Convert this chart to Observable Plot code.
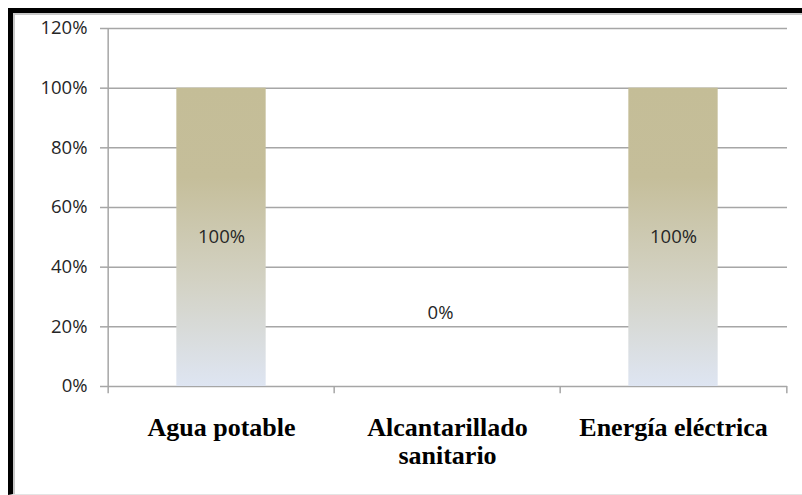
<!DOCTYPE html>
<html>
<head>
<meta charset="utf-8">
<script src="https://cdn.jsdelivr.net/npm/d3@7"></script>
<script src="https://cdn.jsdelivr.net/npm/@observablehq/plot@0.6"></script>
<style>
  html, body { margin: 0; padding: 0; background: #fff; }
  #wrap { position: relative; width: 802px; height: 495px; overflow: hidden; background: #fff; }
  #edge {
    position: absolute; left: 8px; top: 8px; right: -10px; bottom: 0;
    border-left: 5px solid #000; border-top: 5px solid #000;
    box-shadow: inset 2px 2px 0 #c8c8c8;
    border-bottom: 1px solid #e4e4e4;
  }
  #chart { position: absolute; left: 0; top: 0; }
</style>
</head>
<body>
<div id="wrap"><div id="edge"></div><div id="chart"></div></div>
<script>
// Servicios básicos: porcentaje de cobertura
const categories = ["Agua potable", "Alcantarillado sanitario", "Energía eléctrica"];
const tickLabels = ["Agua potable", "Alcantarillado\nsanitario", "Energía eléctrica"];
const values = [100, 0, 100];
const yTicks = [0, 20, 40, 60, 80, 100, 120];

const data = categories.map((c, i) => ({category: c, value: values[i]}));

const W = 802, H = 495;
const mL = 107, mR = 15, mT = 28, mB = 109;
const step = (W - mL - mR) / categories.length;
const barWidth = 90;
const inset = (step - barWidth) / 2;
const grid = "#a6a6a6";

// vertical gradient used by the bars
const gradientDefs = () => {
  const defs = d3.create("svg:defs");
  const g = defs.append("linearGradient")
    .attr("id", "barFill").attr("x1", 0).attr("y1", 0).attr("x2", 0).attr("y2", 1);
  g.append("stop").attr("offset", "0").attr("stop-color", "#c4bd97");
  g.append("stop").attr("offset", "0.3").attr("stop-color", "#c5be9a");
  g.append("stop").attr("offset", "0.65").attr("stop-color", "#d3d2c4");
  g.append("stop").attr("offset", "1").attr("stop-color", "#dee5f2");
  return defs.node();
};

const chart = Plot.plot({
  width: W,
  height: H,
  marginLeft: mL,
  marginRight: mR,
  marginTop: mT,
  marginBottom: mB,
  style: {fontFamily: "'Open Sans', sans-serif", background: "transparent", overflow: "visible"},
  x: {domain: categories, padding: 0, axis: null},
  y: {domain: [0, 120], axis: null},
  marks: [
    gradientDefs,
    Plot.gridY(yTicks, {stroke: grid, strokeOpacity: 1, strokeWidth: 1.5}),
    Plot.barY(data, {x: "category", y: "value", fill: "url(#barFill)", insetLeft: inset, insetRight: inset}),
    // vertical axis line and tick marks at category boundaries
    Plot.ruleX([categories[0]], {dx: -step / 2, y1: -2.4, y2: 120, stroke: grid, strokeWidth: 1.5}),
    Plot.ruleX(categories.slice(1), {dx: -step / 2, y1: -2.4, y2: 0, stroke: grid, strokeWidth: 1.5}),
    Plot.ruleX([categories[categories.length - 1]], {dx: step / 2, y1: -2.4, y2: 0, stroke: grid, strokeWidth: 1.5}),
    Plot.axisY(yTicks, {
      tickSize: 7, tickPadding: 13, stroke: grid, strokeWidth: 1.5,
      tickFormat: d => d + "%", fontSize: 18.5, fill: "#262626", label: null
    }),
    Plot.axisX(categories, {
      tickSize: 0, tickPadding: 29,
      tickFormat: (d, i) => tickLabels[categories.indexOf(d)],
      fontSize: 26, fontWeight: "bold", fontFamily: "'Liberation Serif', 'Times New Roman', serif",
      fill: "#000", lineHeight: 1.1, label: null
    }),
    // value labels
    Plot.text(data.filter(d => d.value > 0), {
      x: "category", y: d => d.value / 2, text: d => d.value + "%",
      fontSize: 18.5, fill: "#262626"
    }),
    Plot.text(data.filter(d => d.value === 0), {
      x: "category", y: "value", text: d => d.value + "%",
      dy: -73, dx: -7, fontSize: 18.5, fill: "#262626"
    })
  ]
});

document.getElementById("chart").appendChild(chart);
</script>
</body>
</html>
